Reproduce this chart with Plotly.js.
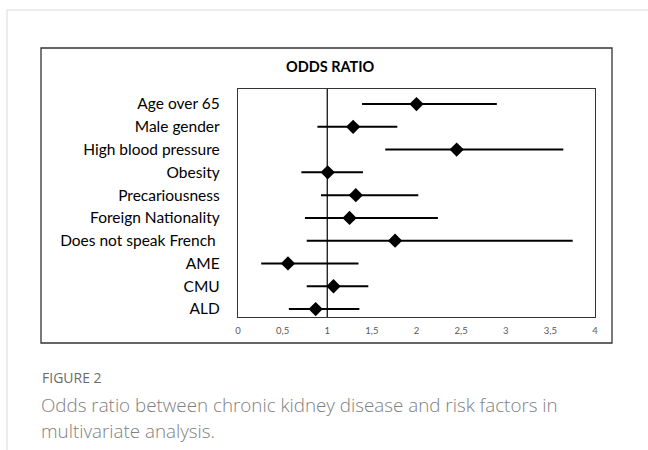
<!DOCTYPE html>
<html>
<head>
<meta charset="utf-8">
<script src="https://cdn.plot.ly/plotly-3.0.1.min.js"></script>
<style>html,body{margin:0;padding:0;background:#fff;}#chart{width:648px;height:450px;}</style>
</head>
<body>
<div id="chart"></div>
<script>
const categories = ["Age over 65","Male gender","High blood pressure","Obesity","Precariousness","Foreign Nationality","Does not speak French\u00a0","AME","CMU","ALD"];
const oddsRatio = [2.00,1.29,2.45,1.005,1.32,1.25,1.76,0.56,1.07,0.87];
const ciLow     = [1.39,0.89,1.65,0.71,0.93,0.75,0.77,0.26,0.77,0.57];
const ciHigh    = [2.90,1.785,3.645,1.40,2.02,2.24,3.75,1.35,1.46,1.36];
const tickVals  = [0,0.5,1,1.5,2,2.5,3,3.5,4];
const tickText  = ["0","0,5","1","1,5","2","2,5","3","3,5","4"];

const W=648,H=450,L=238,R=595,T=89,B=317;
const px = x => (x-L)/(R-L);
const py = y => (B-y)/(B-T);
const idx = categories.map((c,i)=>i);

const trace = {
  type:'scatter', mode:'markers',
  x: oddsRatio, y: idx,
  marker:{symbol:'diamond', size:11, color:'#000'},
  error_x:{type:'data', symmetric:false,
    array: ciHigh.map((h,i)=>h-oddsRatio[i]),
    arrayminus: ciLow.map((l,i)=>oddsRatio[i]-l),
    color:'#000', thickness:2, width:0},
  hoverinfo:'skip', showlegend:false
};

const layout = {
  width:W, height:H,
  margin:{l:L, r:W-R, t:T, b:H-B},
  paper_bgcolor:'#fff', plot_bgcolor:'#fff',
  font:{family:'Lato, Carlito, sans-serif', color:'#000'},
  xaxis:{range:[0,4], tickvals:tickVals, ticktext:tickText, showgrid:false, zeroline:false,
    showline:true, mirror:true, linecolor:'#333', linewidth:1.2, ticks:'', ticklabelstandoff:4,
    tickfont:{size:9.5, color:'#595959', family:'Lato, sans-serif'}, fixedrange:true},
  yaxis:{range:[9.35,-0.66], tickvals:idx, ticktext:categories, showgrid:false, zeroline:false,
    showline:true, mirror:true, linecolor:'#333', linewidth:1.2, ticks:'', ticklabelstandoff:14,
    tickfont:{size:15.5, color:'#000', family:'Lato, sans-serif'}, fixedrange:true},
  shapes:[
    {type:'line', xref:'x', yref:'paper', x0:1, x1:1, y0:0, y1:1, line:{color:'#000', width:1.2}},
    {type:'rect', xref:'paper', yref:'paper', x0:px(41), x1:px(612), y0:py(48), y1:py(343), line:{color:'#333', width:1.3}},
    {type:'line', xref:'paper', yref:'paper', x0:px(7), x1:px(7), y0:py(10), y1:py(450), line:{color:'#d9d9d9', width:1}},
    {type:'line', xref:'paper', yref:'paper', x0:px(7), x1:px(648), y0:py(10), y1:py(10), line:{color:'#d9d9d9', width:1}}
  ],
  annotations:[
    {text:'<b>ODDS RATIO</b>', xref:'paper', yref:'paper', x:px(330), y:py(67), xanchor:'center', yanchor:'middle', showarrow:false, font:{size:14.5, color:'#000', family:'Lato, sans-serif'}},
    {text:'FIGURE 2', xref:'paper', yref:'paper', x:px(40), y:py(377), xanchor:'left', yanchor:'middle', showarrow:false, font:{size:14, color:'#6b6b6b', family:'Open Sans, sans-serif'}},
    {text:'Odds ratio between chronic kidney disease and risk factors in', xref:'paper', yref:'paper', x:px(39), y:py(405), xanchor:'left', yanchor:'middle', showarrow:false, font:{size:18.8, color:'#808080', family:'Open Sans, sans-serif', weight:300}},
    {text:'multivariate analysis.', xref:'paper', yref:'paper', x:px(39), y:py(431), xanchor:'left', yanchor:'middle', showarrow:false, font:{size:18.8, color:'#808080', family:'Open Sans, sans-serif', weight:300}}
  ]
};

Plotly.newPlot('chart',[trace],layout,{displayModeBar:false, staticPlot:true});
</script>
</body>
</html>
